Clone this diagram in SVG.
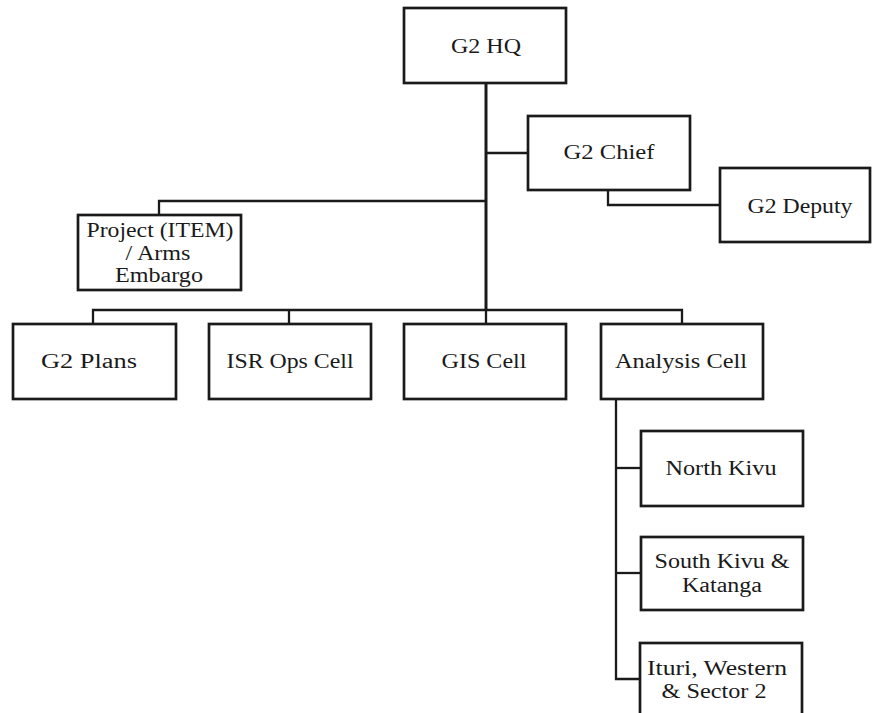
<svg xmlns="http://www.w3.org/2000/svg" width="872" height="713" viewBox="0 0 872 713">
<style>
.box{fill:#fff;stroke:#1a1a1a;stroke-width:2.7}
.ln{fill:none;stroke:#1a1a1a;stroke-width:2.3}
.trunk{fill:none;stroke:#1a1a1a;stroke-width:3}
.t{font-family:'Liberation Serif','Times New Roman',serif;font-size:20px;fill:#1a1a1a;text-anchor:middle}
</style>
<rect width="872" height="713" fill="#fff"/>
<g id="connectors">
<path class="trunk" d="M486,83 V310"/>
<path class="ln" d="M486,153 H528"/>
<path class="ln" d="M486,201 H159 V215"/>
<path class="ln" d="M608,190 V205 H720"/>
<path class="ln" d="M93,324 V310 H682 V324"/>
<path class="ln" d="M289,310 V324"/>
<path class="ln" d="M486,310 V324"/>
<path class="ln" d="M616,399 V679 H640"/>
<path class="ln" d="M616,468 H641"/>
<path class="ln" d="M616,573 H641"/>
</g>
<g id="g2hq"><rect class="box" x="404" y="8" width="162" height="75"/><text class="t" x="486" y="53" textLength="70" lengthAdjust="spacingAndGlyphs">G2 HQ</text></g>
<g id="g2chief"><rect class="box" x="528" y="116" width="162" height="74"/><text class="t" x="609" y="159" textLength="91" lengthAdjust="spacingAndGlyphs">G2 Chief</text></g>
<g id="g2deputy"><rect class="box" x="720" y="168" width="150" height="74"/><text class="t" x="800" y="213" textLength="105" lengthAdjust="spacingAndGlyphs">G2 Deputy</text></g>
<g id="project"><rect class="box" x="78" y="215" width="163" height="75"/>
<text class="t" x="160" y="237" textLength="147" lengthAdjust="spacingAndGlyphs">Project (ITEM)</text>
<text class="t" x="158" y="260" textLength="65" lengthAdjust="spacingAndGlyphs">/ Arms</text>
<text class="t" x="159" y="282" textLength="88" lengthAdjust="spacingAndGlyphs">Embargo</text></g>
<g id="g2plans"><rect class="box" x="13" y="324" width="163" height="75"/><text class="t" x="89" y="368" textLength="96" lengthAdjust="spacingAndGlyphs">G2 Plans</text></g>
<g id="isr"><rect class="box" x="209" y="324" width="162" height="75"/><text class="t" x="290" y="368" textLength="127" lengthAdjust="spacingAndGlyphs">ISR Ops Cell</text></g>
<g id="gis"><rect class="box" x="404" y="324" width="162" height="75"/><text class="t" x="484" y="368" textLength="85" lengthAdjust="spacingAndGlyphs">GIS Cell</text></g>
<g id="analysis"><rect class="box" x="601" y="324" width="162" height="75"/><text class="t" x="681" y="368" textLength="132" lengthAdjust="spacingAndGlyphs">Analysis Cell</text></g>
<g id="northkivu"><rect class="box" x="641" y="431" width="162" height="75"/><text class="t" x="721" y="475" textLength="111" lengthAdjust="spacingAndGlyphs">North Kivu</text></g>
<g id="southkivu"><rect class="box" x="641" y="537" width="162" height="73"/>
<text class="t" x="722" y="568" textLength="135" lengthAdjust="spacingAndGlyphs">South Kivu &amp;</text>
<text class="t" x="722" y="592" textLength="80" lengthAdjust="spacingAndGlyphs">Katanga</text></g>
<g id="ituri"><rect class="box" x="640" y="643" width="162" height="80"/>
<text class="t" x="717" y="675" textLength="140" lengthAdjust="spacingAndGlyphs">Ituri, Western</text>
<text class="t" x="714" y="698" textLength="105" lengthAdjust="spacingAndGlyphs">&amp; Sector 2</text></g>
</svg>
